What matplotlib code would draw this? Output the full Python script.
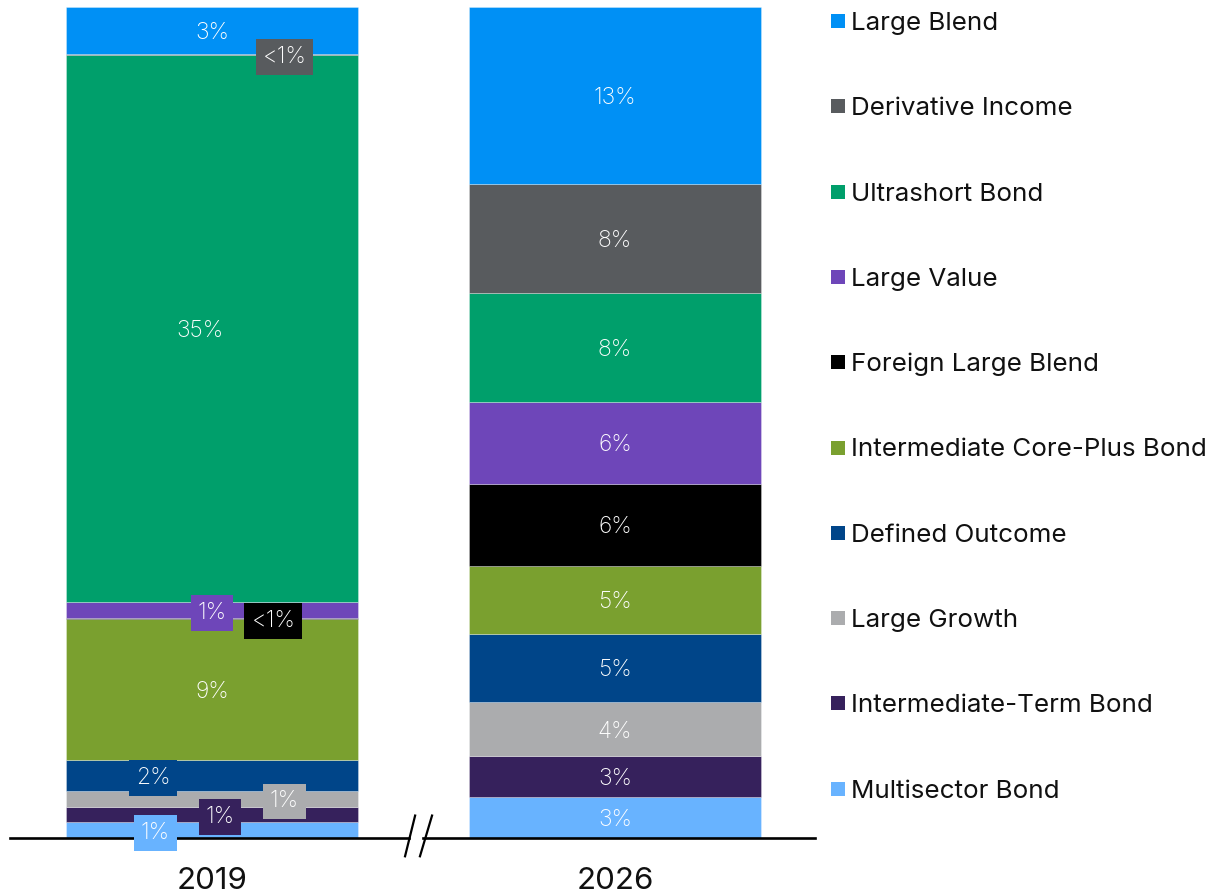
import matplotlib.pyplot as plt
from matplotlib.patches import Rectangle

# categories, bottom to top of each stack
categories = ["Multisector Bond", "Intermediate-Term Bond", "Large Growth",
              "Defined Outcome", "Intermediate Core-Plus Bond", "Foreign Large Blend",
              "Large Value", "Ultrashort Bond", "Derivative Income", "Large Blend"]
colors = ["#68b3ff", "#36215c", "#abacae", "#004589", "#7aa02f", "#000000",
          "#6e46b9", "#009f6b", "#585b5e", "#0090f5"]
years = ["2019", "2026"]

# share of assets (%); "<1%" entries drawn as tiny slivers
vals_2019 = [1, 1, 1, 2, 9, 0.05, 1, 35, 0.05, 3]
vals_2026 = [3, 3, 4, 5, 5, 6, 6, 8, 8, 13]
text_2019 = ["1%", "1%", "1%", "2%", "9%", "<1%", "1%", "35%", "<1%", "3%"]
text_2026 = ["3%", "3%", "4%", "5%", "5%", "6%", "6%", "8%", "8%", "13%"]

# label nudges for the crowded 2019 bar (x in bar units)
dx_2019 = [-0.14, 0.02, 0.18, -0.146, 0.0, 0.152, 0.0, -0.03, 0.18, 0.0]
boxed_2019 = [True, True, True, True, False, True, True, False, True, False]

plt.rcParams["font.family"] = ["Inter", "DejaVu Sans"]

fig = plt.figure(figsize=(12.09, 8.94), dpi=100)
ax = fig.add_axes([10 / 1209, 1 - 838 / 894, 805 / 1209, 831 / 894])
ax.set_xlim(-0.501, 1.496)
ax.set_ylim(0, 1)
ax.axis("off")

width = 0.7246
lab_kw = dict(color="white", fontsize=16.5, fontweight="light",
              ha="center", va="center_baseline", zorder=5)
for i, (vals, texts) in enumerate([(vals_2019, text_2019), (vals_2026, text_2026)]):
    total = sum(vals)
    bottom = 0
    for j, v in enumerate(vals):
        h = v / total
        ax.bar(i, h, width=width, bottom=bottom, color=colors[j],
               edgecolor=(1, 1, 1, 0.35), linewidth=0.6)
        mid = bottom + h / 2
        if i == 0:
            kw = {}
            if boxed_2019[j]:
                kw["bbox"] = dict(boxstyle="square,pad=0.3", fc=colors[j], ec="none")
            ax.text(i + dx_2019[j], mid, texts[j], **lab_kw, **kw)
        else:
            ax.text(i, mid, texts[j], **lab_kw)
        bottom += h

# baseline with a break between the bars
ax.plot([-0.501, 0.488], [0, 0], color="black", lw=1.9, clip_on=False)
ax.plot([0.524, 1.496], [0, 0], color="black", lw=1.9, clip_on=False)
ax.plot([0.479, 0.504], [-0.022, 0.027], color="black", lw=1.6, clip_on=False)
ax.plot([0.516, 0.546], [-0.022, 0.027], color="black", lw=1.6, clip_on=False)

for i, y in enumerate(years):
    ax.text(i, -0.052, y, ha="center", va="center", fontsize=22.5, color="#111111")

# legend, top entry first
for k, j in enumerate(range(len(categories) - 1, -1, -1)):
    yc = 1 - (21 + k * 85.3) / 894
    fig.add_artist(Rectangle((831 / 1209, yc - 7 / 894), 14 / 1209, 14 / 894,
                             facecolor=colors[j], edgecolor="none",
                             transform=fig.transFigure))
    fig.text(851 / 1209, yc, categories[j], fontsize=18.7, va="center_baseline",
             ha="left", color="#111111")

fig.savefig("out.png", dpi=100)
